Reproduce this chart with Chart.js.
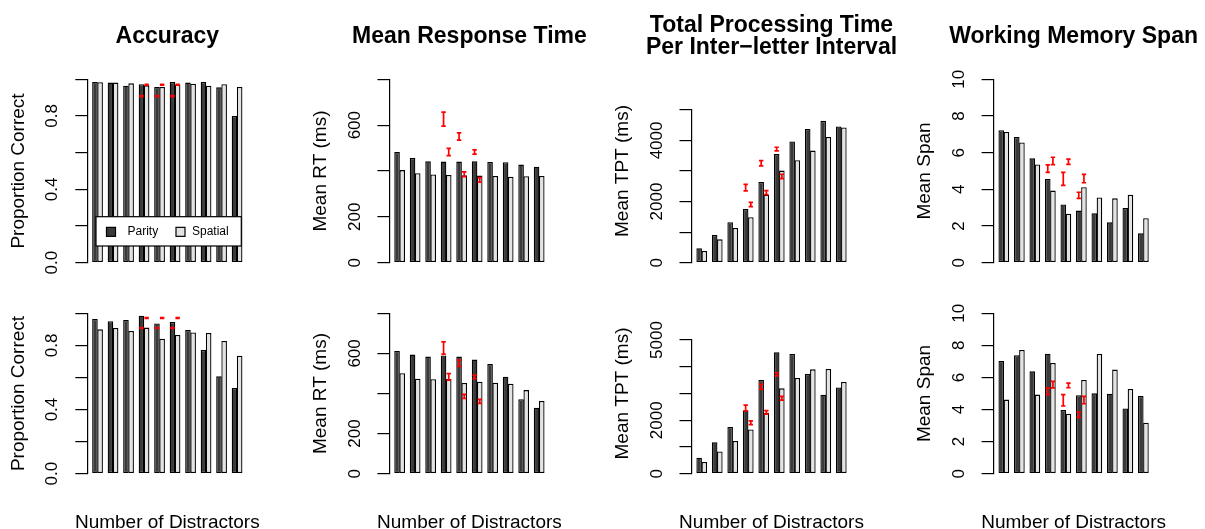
<!DOCTYPE html>
<html><head><meta charset="utf-8">
<script src="https://cdn.jsdelivr.net/npm/chart.js@4.4.1/dist/chart.umd.min.js"></script>
<style>
html,body{margin:0;padding:0;background:#fff;}
#wrap{position:relative;width:1205px;height:529px;overflow:hidden;background:#fff;}
#wrap canvas{position:absolute;left:0;top:0;}
</style></head>
<body><div id="wrap"></div>
<script>
// ---------- data ----------
const categories = ['1','2','3','4','6','8','9','10','11','12'];
const seriesNames = ['Parity','Spatial'];
const xTitle = 'Number of Distractors';

// top row
const accTopParity  = [0.985, 0.982, 0.965, 0.973, 0.958, 0.985, 0.982, 0.985, 0.956, 0.800];
const accTopSpatial = [0.984, 0.982, 0.978, 0.967, 0.958, 0.971, 0.976, 0.965, 0.973, 0.958];
const rtTopParity   = [483, 457, 442, 441, 441, 442, 439, 438, 428, 419];
const rtTopSpatial  = [404, 390, 385, 383, 381, 380, 378, 375, 377, 378];
const tptTopParity  = [469, 906, 1321, 1758, 2642, 3559, 3963, 4378, 4640, 4454];
const tptTopSpatial = [382, 764, 1135, 1485, 2227, 3013, 3352, 3668, 4116, 4421];
const spanTopParity  = [7.22, 6.85, 5.69, 4.56, 3.18, 2.84, 2.69, 2.20, 2.98, 1.60];
const spanTopSpatial = [7.13, 6.55, 5.36, 3.93, 2.67, 4.11, 3.56, 3.51, 3.71, 2.42];

// bottom row
const accBotParity  = [0.965, 0.950, 0.958, 0.985, 0.936, 0.946, 0.896, 0.771, 0.607, 0.534];
const accBotSpatial = [0.900, 0.909, 0.890, 0.911, 0.842, 0.865, 0.881, 0.877, 0.827, 0.736];
const rtBotParity   = [612, 594, 584, 590, 584, 569, 547, 484, 371, 329];
const rtBotSpatial  = [501, 474, 471, 472, 452, 459, 454, 449, 417, 363];
const tptBotParity  = [599, 1172, 1746, 2369, 3504, 4539, 4476, 3728, 2955, 3229];
const tptBotSpatial = [436, 835, 1222, 1658, 2282, 3192, 3579, 3903, 3915, 3429];
const spanBotParity  = [7.03, 7.38, 6.38, 7.48, 3.97, 4.89, 5.01, 4.99, 4.07, 4.84];
const spanBotSpatial = [4.62, 7.71, 4.93, 6.90, 3.74, 5.84, 7.46, 6.49, 5.28, 3.18];

// observed data (red error bars)
const obsCategories = ['4','6','8'];
const accObsParityLo  = [0.906, 0.906, 0.906];
const accObsParityHi  = [0.911, 0.911, 0.911];
const accObsSpatialLo = [0.968, 0.968, 0.968];
const accObsSpatialHi = [0.973, 0.973, 0.973];
const rtObsParityLo  = [596, 535, 474];
const rtObsParityHi  = [657, 566, 492];
const rtObsSpatialLo = [467, 375, 351];
const rtObsSpatialHi = [499, 396, 371];
const tptObsParityLo  = [2350, 3166, 3657];
const tptObsParityHi  = [2565, 3341, 3777];
const tptObsSpatialLo = [1834, 2227, 2751];
const tptObsSpatialHi = [1976, 2358, 2893];
const spanObsParityLo  = [4.93, 4.22, 3.51];
const spanObsParityHi  = [5.33, 4.93, 3.84];
const spanObsSpatialLo = [5.35, 5.36, 4.36];
const spanObsSpatialHi = [5.75, 5.65, 4.82];

// y tick labels (empty = tick without label)
const accTickLabels    = ['0.0', '', '0.4', '', '0.8', ''];
const rtTickLabels     = ['0', '200', '', '600', ''];
const tptTopTickLabels = ['0', '', '2000', '', '4000', ''];
const tptBotTickLabels = ['0', '', '2000', '', '', '5000'];
const spanTickLabels   = ['0', '2', '4', '6', '8', '10'];

// ---------- layout ----------
const FONT = '"Liberation Sans", Arial, Helvetica, sans-serif';
Chart.defaults.font.family = FONT;
const W = 1205, H = 529;
const rows = [{zero: 262.7, h: 183.4, labelY: 171}, {zero: 473.7, h: 160.4, labelY: 393.5}];
const colAxisX = [87.3, 389.4, 691.5, 993.6];
const plotW = 160;
const xPad = 0.66;

const accObs  = {pLo: accObsParityLo, pHi: accObsParityHi, sLo: accObsSpatialLo, sHi: accObsSpatialHi};
const rtObs   = {pLo: rtObsParityLo, pHi: rtObsParityHi, sLo: rtObsSpatialLo, sHi: rtObsSpatialHi};
const tptObs  = {pLo: tptObsParityLo, pHi: tptObsParityHi, sLo: tptObsSpatialLo, sHi: tptObsSpatialHi};
const spanObs = {pLo: spanObsParityLo, pHi: spanObsParityHi, sLo: spanObsSpatialLo, sHi: spanObsSpatialHi};

const panels = [
  {row:0, col:0, title:['Accuracy'], yTitle:'Proportion Correct', parity:accTopParity, spatial:accTopSpatial, yLim:1, yTop:1, yStep:0.2, yLabels:accTickLabels, obs:accObs, legend:true},
  {row:0, col:1, title:['Mean Response Time'], yTitle:'Mean RT (ms)', parity:rtTopParity, spatial:rtTopSpatial, yLim:800, yTop:800, yStep:200, yLabels:rtTickLabels, obs:rtObs},
  {row:0, col:2, title:['Total Processing Time','Per Inter\u2212letter Interval'], yTitle:'Mean TPT (ms)', parity:tptTopParity, spatial:tptTopSpatial, yLim:6000, yTop:5000, yStep:1000, yLabels:tptTopTickLabels, obs:tptObs},
  {row:0, col:3, title:['Working Memory Span'], yTitle:'Mean Span', parity:spanTopParity, spatial:spanTopSpatial, yLim:10, yTop:10, yStep:2, yLabels:spanTickLabels, obs:spanObs},
  {row:1, col:0, yTitle:'Proportion Correct', parity:accBotParity, spatial:accBotSpatial, yLim:1, yTop:1, yStep:0.2, yLabels:accTickLabels, obs:accObs},
  {row:1, col:1, yTitle:'Mean RT (ms)', parity:rtBotParity, spatial:rtBotSpatial, yLim:800, yTop:800, yStep:200, yLabels:rtTickLabels, obs:rtObs},
  {row:1, col:2, yTitle:'Mean TPT (ms)', parity:tptBotParity, spatial:tptBotSpatial, yLim:6000, yTop:5000, yStep:1000, yLabels:tptBotTickLabels, obs:tptObs},
  {row:1, col:3, yTitle:'Mean Span', parity:spanBotParity, spatial:spanBotSpatial, yLim:10, yTop:10, yStep:2, yLabels:spanTickLabels, obs:spanObs}
];

const DARK = '#3a3a3a', LIGHT = '#e3e3e3';

const rStyle = {
  id: 'rStyle',
  afterDatasetsDraw(chart) {
    const p = chart.canvas._panel; const ctx = chart.ctx; const yS = chart.scales.y;
    ctx.save();
    ctx.strokeStyle = '#ff0000'; ctx.lineWidth = 1.7; ctx.lineCap = 'butt';
    [['p', 0], ['s', 1]].forEach(([k, di]) => {
      const meta = chart.getDatasetMeta(di);
      obsCategories.forEach((c, j) => {
        const el = meta.data[categories.indexOf(c)];
        const x = el.x;
        const y1 = yS.getPixelForValue(p.obs[k + 'Lo'][j]);
        const y2 = yS.getPixelForValue(p.obs[k + 'Hi'][j]);
        ctx.beginPath();
        ctx.moveTo(x, y1); ctx.lineTo(x, y2);
        ctx.moveTo(x - 2.2, y1); ctx.lineTo(x + 2.2, y1);
        ctx.moveTo(x - 2.2, y2); ctx.lineTo(x + 2.2, y2);
        ctx.stroke();
      });
    });
    ctx.restore();
  },
  afterDraw(chart) {
    const p = chart.canvas._panel; const ctx = chart.ctx; const ca = chart.chartArea; const yS = chart.scales.y;
    const row = rows[p.row];
    const cx = (ca.left + ca.right) / 2;
    ctx.save();
    ctx.fillStyle = '#000';
    if (p.title) {
      ctx.font = 'bold 23px ' + FONT; ctx.textAlign = 'center'; ctx.textBaseline = 'alphabetic';
      const bl = p.title.length === 1 ? [42.5] : [31.5, 53.5];
      p.title.forEach((t, i) => ctx.fillText(t, cx, bl[i]));
    }
    ctx.font = '17px ' + FONT;
    yS.ticks.forEach(t => {
      const lab = p.yLabels[Math.round(t.value / p.yStep)];
      if (!lab) return;
      const y = yS.getPixelForValue(t.value);
      ctx.save(); ctx.translate(ca.left - 34.5, y); ctx.rotate(-Math.PI / 2);
      ctx.textAlign = 'center'; ctx.textBaseline = 'middle'; ctx.fillText(lab, 0, 0); ctx.restore();
    });
    ctx.font = '19px ' + FONT;
    ctx.save(); ctx.translate(ca.left - 68.5, row.labelY); ctx.rotate(-Math.PI / 2);
    ctx.textAlign = 'center'; ctx.textBaseline = 'middle'; ctx.fillText(p.yTitle, 0, 0); ctx.restore();
    if (p.row === 1) {
      ctx.textAlign = 'center'; ctx.textBaseline = 'alphabetic';
      ctx.fillText(xTitle, cx, 527.5);
    }
    if (p.legend) {
      const bx = ca.left + 8.7, by = ca.bottom - 46, bw = 145.3, bh = 29.3;
      ctx.fillStyle = '#fff'; ctx.fillRect(bx, by, bw, bh);
      ctx.strokeStyle = '#000'; ctx.lineWidth = 1.2; ctx.strokeRect(bx, by, bw, bh);
      const cy = by + bh / 2 + 0.5;
      const items = [[DARK, seriesNames[0], 10.5, 31.5], [LIGHT, seriesNames[1], 80, 96]];
      ctx.font = '12px ' + FONT; ctx.textAlign = 'left'; ctx.textBaseline = 'middle';
      items.forEach(([col, txt, sq, tx]) => {
        ctx.fillStyle = col; ctx.fillRect(bx + sq, cy - 4.5, 9, 9);
        ctx.strokeStyle = '#000'; ctx.lineWidth = 1.2; ctx.strokeRect(bx + sq, cy - 4.5, 9, 9);
        ctx.fillStyle = '#000'; ctx.fillText(txt, bx + tx, cy);
      });
    }
    ctx.restore();
  }
};

const wrap = document.getElementById('wrap');
panels.forEach(p => {
  const cv = document.createElement('canvas');
  cv.width = W; cv.height = H; cv.style.width = W + 'px'; cv.style.height = H + 'px';
  wrap.appendChild(cv);
  cv._panel = p;
  const row = rows[p.row]; const ax = colAxisX[p.col];
  const top = row.zero - row.h * p.yTop / p.yLim;
  const ds = (name, vals, col) => ({
    label: name, data: vals.map((v, i) => ({x: i, y: v})),
    backgroundColor: col, borderColor: '#000', borderWidth: 1.3, borderSkipped: false,
    categoryPercentage: 2 / 3, barPercentage: 1.08
  });
  new Chart(cv, {
    type: 'bar',
    data: {datasets: [ds(seriesNames[0], p.parity, DARK), ds(seriesNames[1], p.spatial, LIGHT)]},
    options: {
      responsive: false, animation: false, devicePixelRatio: 1,
      events: [],
      layout: {autoPadding: false, padding: {left: ax, right: W - ax - plotW, top: top, bottom: H - row.zero}},
      scales: {
        x: {
          type: 'linear', offset: false, min: -xPad, max: categories.length - 1 + xPad,
          afterFit: s => { s.height = 0; },
          grid: {display: false}, border: {display: false},
          ticks: {stepSize: 1, includeBounds: false, autoSkip: false, maxRotation: 0, minRotation: 0,
                  padding: 9, color: '#000', font: {size: 11},
                  callback: v => (categories[v] !== undefined ? categories[v] : '')}
        },
        y: {
          type: 'linear', min: 0, max: p.yTop,
          afterFit: s => { s.width = 0; },
          grid: {display: true, drawOnChartArea: false, drawTicks: true, tickLength: 12, color: '#000', lineWidth: 1.2},
          border: {display: true, color: '#000', width: 1.2},
          ticks: {display: false, stepSize: p.yStep}
        }
      },
      plugins: {legend: {display: false}, tooltip: {enabled: false}}
    },
    plugins: [rStyle]
  });
});
</script>
</body></html>
